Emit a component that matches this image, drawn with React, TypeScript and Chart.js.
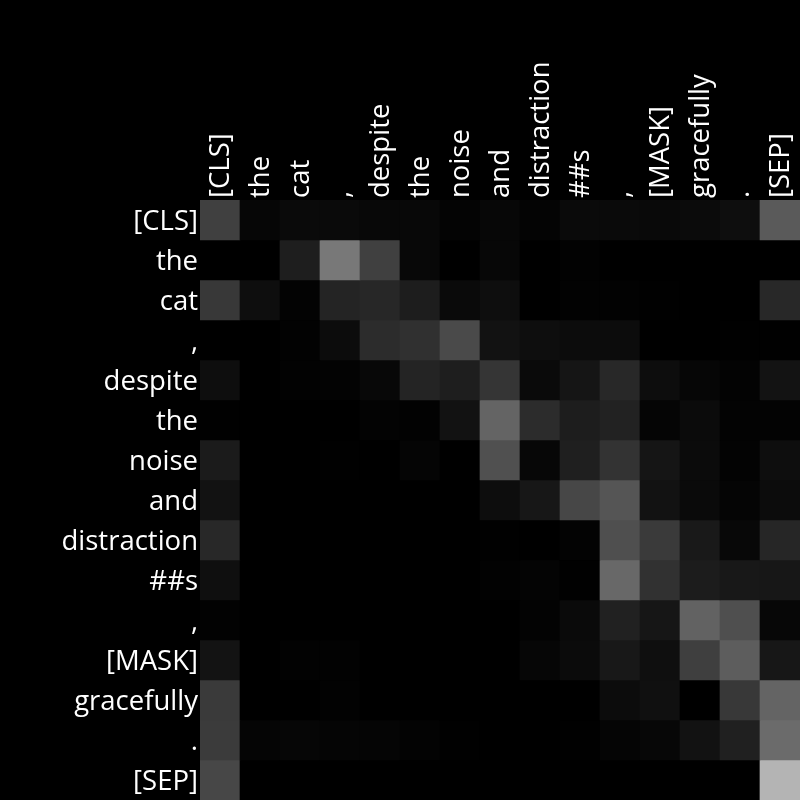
import React, { useEffect, useRef } from "react";
import { Chart, registerables } from "chart.js";

Chart.register(...registerables);

// Tokens (both axes)
const tokens = [
  "[CLS]", "the", "cat", ",", "despite", "the", "noise", "and",
  "distraction", "##s", ",", "[MASK]", "gracefully", ".", "[SEP]",
];

// Attention intensity per query row (0–255 grey level)
const rowCLS = [64, 6, 10, 10, 8, 8, 4, 7, 4, 10, 10, 9, 11, 14, 90];
const rowThe1 = [0, 0, 30, 120, 64, 8, 0, 7, 0, 2, 0, 0, 0, 0, 0];
const rowCat = [56, 14, 3, 36, 39, 29, 10, 14, 0, 2, 2, 1, 0, 0, 40];
const rowComma1 = [0, 0, 2, 12, 44, 48, 74, 18, 14, 12, 12, 0, 0, 1, 1];
const rowDespite = [14, 0, 2, 3, 8, 36, 30, 53, 10, 21, 40, 13, 6, 3, 19];
const rowThe2 = [1, 0, 0, 0, 3, 2, 18, 100, 44, 29, 34, 5, 11, 3, 3];
const rowNoise = [27, 0, 0, 1, 0, 5, 0, 80, 7, 31, 51, 21, 11, 3, 14];
const rowAnd = [18, 0, 0, 0, 0, 0, 0, 13, 23, 71, 85, 18, 10, 5, 12];
const rowDistraction = [40, 0, 0, 0, 0, 0, 0, 1, 0, 3, 79, 58, 25, 8, 38];
const rowS = [15, 0, 0, 0, 0, 0, 0, 2, 4, 1, 104, 49, 28, 24, 23];
const rowComma2 = [2, 0, 0, 0, 0, 0, 0, 0, 3, 10, 33, 22, 98, 79, 7];
const rowMask = [19, 0, 2, 2, 0, 0, 0, 0, 6, 11, 24, 15, 63, 93, 23];
const rowGracefully = [58, 0, 0, 2, 0, 0, 0, 0, 0, 0, 12, 16, 0, 56, 100];
const rowPeriod = [59, 5, 6, 5, 5, 3, 1, 0, 0, 1, 5, 7, 18, 32, 107];
const rowSEP = [71, 0, 0, 0, 0, 0, 0, 0, 0, 0, 0, 0, 0, 0, 180];

const attention = [
  rowCLS, rowThe1, rowCat, rowComma1, rowDespite, rowThe2, rowNoise, rowAnd,
  rowDistraction, rowS, rowComma2, rowMask, rowGracefully, rowPeriod, rowSEP,
];

export default function App() {
  const ref = useRef<HTMLCanvasElement>(null);

  useEffect(() => {
    if (!ref.current) return;
    const n = tokens.length;
    const datasets = attention.map((row, r) => ({
      type: "bar" as const,
      label: tokens[r],
      data: row.map(() => [r - 0.5, r + 0.5]),
      backgroundColor: row.map((v) => `rgb(${v},${v},${v})`),
      borderWidth: 0,
      barPercentage: 1,
      categoryPercentage: 1,
      grouped: false,
    }));

    const chart = new Chart(ref.current, {
      type: "bar",
      data: { labels: tokens, datasets: datasets as any },
      options: {
        animation: false,
        responsive: false,
        maintainAspectRatio: false,
        layout: { padding: 0 },
        plugins: { legend: { display: false }, tooltip: { enabled: false } },
        scales: {
          x: {
            type: "category",
            position: "top",
            offset: true,
            grid: { display: false, drawTicks: false },
            border: { display: false },
            ticks: {
              color: "#ffffff",
              font: { family: "'Open Sans'", size: 27.5 },
              minRotation: 90,
              maxRotation: 90,
              autoSkip: false,
              padding: 2,
              labelOffset: 34,
            },
            afterFit: (scale: any) => {
              scale.height = 200;
              scale.paddingLeft = 0;
              scale.paddingRight = 0;
            },
          },
          y: {
            type: "linear",
            reverse: true,
            min: -0.5,
            max: n - 0.5,
            grid: { display: false, drawTicks: false },
            border: { display: false },
            afterBuildTicks: (scale: any) => {
              scale.ticks = tokens.map((_, i) => ({ value: i }));
            },
            ticks: {
              color: "#ffffff",
              font: { family: "'Open Sans'", size: 27.5 },
              padding: 2,
              labelOffset: 2,
              autoSkip: false,
              callback: (v: any) => tokens[Number(v)] ?? "",
            },
            afterFit: (scale: any) => {
              scale.width = 200;
              scale.paddingTop = 0;
              scale.paddingBottom = 0;
            },
          },
        },
      },
    });
    return () => chart.destroy();
  }, []);

  return (
    <div
      style={{
        position: "fixed",
        left: 0,
        top: 0,
        width: 800,
        height: 800,
        background: "#000",
      }}
    >
      <canvas ref={ref} width={800} height={800} style={{ display: "block" }} />
    </div>
  );
}
